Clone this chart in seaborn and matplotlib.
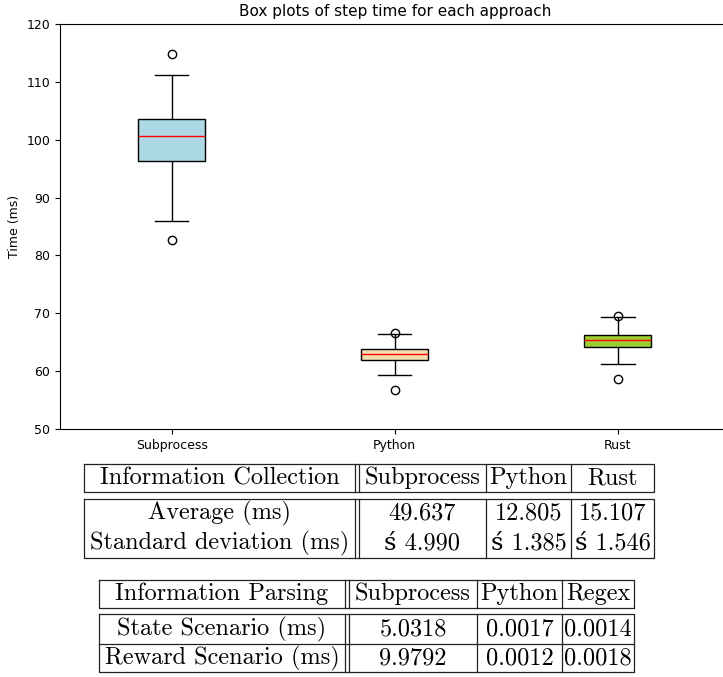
import numpy as np
import pandas as pd
import matplotlib
matplotlib.use('Agg')
import matplotlib.pyplot as plt
import seaborn as sns

# step time samples (ms)
approaches = ['Subprocess', 'Python', 'Rust']
subprocess_ms = [82.7, 86.0, 96.4, 98.5, 100.6, 102.0, 103.6, 111.2, 114.8]
python_ms = [56.7, 59.35, 62.0, 62.5, 63.0, 63.4, 63.8, 66.4, 66.6]
rust_ms = [58.7, 61.2, 64.2, 64.8, 65.4, 65.9, 66.3, 69.3, 69.5]
box_colors = ['lightblue', 'wheat', 'yellowgreen']

# tables
collection_header = ['Information Collection', 'Subprocess', 'Python', 'Rust']
collection_rows = [['Average (ms)', '49.637', '12.805', '15.107'],
                   ['Standard deviation (ms)', 'ś 4.990', 'ś 1.385', 'ś 1.546']]
parsing_header = ['Information Parsing', 'Subprocess', 'Python', 'Regex']
parsing_rows = [['State Scenario (ms)', '5.0318', '0.0017', '0.0014'],
                ['Reward Scenario (ms)', '9.9792', '0.0012', '0.0018']]

df = pd.DataFrame({
    'approach': np.repeat(approaches, [len(subprocess_ms), len(python_ms), len(rust_ms)]),
    'time': subprocess_ms + python_ms + rust_ms,
})

W, H = 723, 677
fig = plt.figure(figsize=(W / 100, H / 100), dpi=100)

# box plot
ax = fig.add_axes([60 / W, 1 - 429 / H, 669.5 / W, 405 / H])
sns.boxplot(data=df, x='approach', y='time', hue='approach', palette=box_colors,
            saturation=1, width=0.3, linecolor='black', linewidth=1.0,
            legend=False, ax=ax,
            medianprops=dict(color='red', linewidth=1.0),
            flierprops=dict(marker='o', markerfacecolor='none',
                            markeredgecolor='black', markersize=6))
ax.set_xlim(-0.5, 2.5)
ax.set_ylim(50, 120)
ax.set_xlabel('')
ax.set_ylabel('Time (ms)', fontsize=9)
ax.set_title('Box plots of step time for each approach', fontsize=11)
ax.tick_params(labelsize=9)

# tables drawn in pixel space
tab = fig.add_axes([0, 0, 1, 1])
tab.set_xlim(0, W)
tab.set_ylim(H, 0)
tab.axis('off')
tab.patch.set_visible(False)

FONT = ['cmr10', 'DejaVu Serif']
LC = '#222222'
LW = 0.9


def box(x0, x1, y0, y1):
    tab.plot([x0, x1, x1, x0, x0], [y0, y0, y1, y1, y0], color=LC, lw=LW)


def draw_table(edges, head_y, body_y, row_y, row_line, header, rows):
    # edges: left, double-line pair, inner edges, right
    x0, d0 = edges[0], edges[1]
    x1 = edges[-1]
    for y0, y1 in [head_y, body_y]:
        box(x0, x1, y0, y1)
        for xe in edges[1:-1]:
            tab.plot([xe, xe], [y0, y1], color=LC, lw=LW)
    if row_line is not None:
        tab.plot([x0, x1], [row_line, row_line], color=LC, lw=LW)
    centers = [(x0 + d0) / 2] + [(a + b) / 2 for a, b in zip(edges[2:-1], edges[3:])]
    hy = (head_y[0] + head_y[1]) / 2
    for cx, txt in zip(centers, header):
        tab.text(cx, hy, txt, ha='center', va='center', fontsize=17.5, family=FONT)
    for ry, row in zip(row_y, rows):
        for cx, txt in zip(centers, row):
            tab.text(cx, ry, txt, ha='center', va='center', fontsize=17.5, family=FONT)


draw_table([84, 355, 359, 486, 571, 654], (464, 492), (499, 558), [513.5, 543], None,
           collection_header, collection_rows)
draw_table([99, 345, 349, 477, 562, 634], (580, 608), (614, 672), [629, 658], 644,
           parsing_header, parsing_rows)

fig.savefig('out.png', dpi=100)
